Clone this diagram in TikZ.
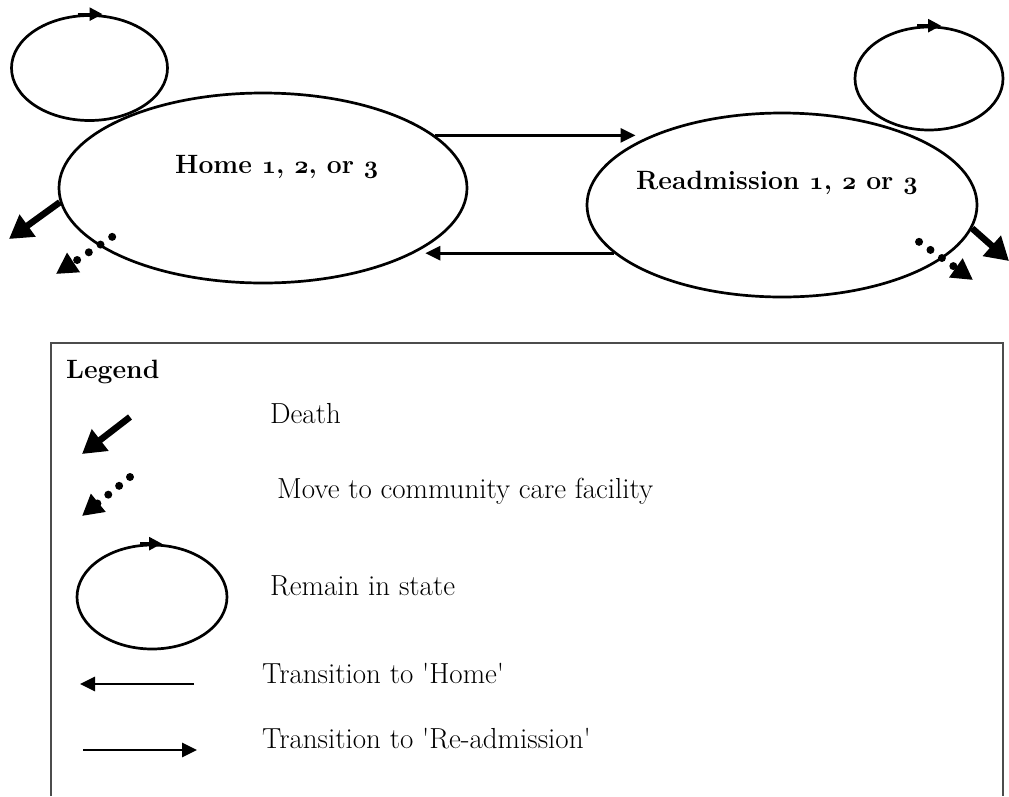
\documentclass[tikz,border=0pt]{standalone}
\usetikzlibrary{arrows.meta,shapes.geometric,calc}
\newcommand{\osb}[1]{{\usefont{OML}{cmm}{b}{it}#1}}
\begin{document}
\begin{tikzpicture}[x=1pt,y=-1pt,
  st/.style={draw, ellipse, line width=2.7pt, inner sep=0pt},
  trans/.style={line width=2.8pt, -{Triangle[length=15pt,width=14pt]}},
  death/.style={line width=6.5pt, -{Triangle[length=23pt,width=26pt]}},
  dotarr/.style={line width=8pt, line cap=round, dash pattern=on 0pt off 14pt, -{Triangle[length=21pt,width=22pt]}},
  looparr/.style={line width=2.7pt, -{Triangle[length=13pt,width=13pt]}},
  lbl/.style={anchor=base west, inner sep=0pt, font=\fontsize{29}{34}\selectfont},
  hb/.style={anchor=base west, inner sep=0pt, font=\fontsize{26.5}{31}\selectfont\bfseries},
  boxline/.style={draw=black!70, line width=2.5pt}]
\useasboundingbox (0,0) rectangle (1009,796);

% states
\node[st, minimum width=408pt, minimum height=190pt] (home) at (263,188) {};
\node[st, minimum width=390pt, minimum height=184pt] (readm) at (782,205) {};
\node[st, minimum width=156pt, minimum height=105pt] (homeloop) at (89.5,68) {};
\node[st, minimum width=148pt, minimum height=103pt] (readmloop) at (929,78.5) {};
\node[hb] (homet) at (175,173) {Home \osb{1}, \osb{2}, or \osb{3}};
\node[hb] (readmt) at (636,189) {Readmission \osb{1}, \osb{2} or \osb{3}};

% loop arrows
\draw[looparr] ([xshift=-12pt]homeloop.north) -- ([xshift=13pt]homeloop.north);
\draw[looparr] ([xshift=-12pt]readmloop.north) -- ([xshift=12pt]readmloop.north);

% transitions
\draw[trans] (home.17) -- (home.17 -| readm.157);
\draw[trans] (readm.196) -- (readm.196 -| home.340);

% death and community care
\coordinate (hdeath) at (9,239);
\draw[death] (home.184) -- (hdeath);
\coordinate (hcare) at (56,274);
\draw[dotarr] ([shift={(18,-6)}]home.198) -- (hcare);
\coordinate (rdeath) at (1009,261);
\draw[death] (readm.-7) -- (rdeath);
\coordinate (rcare) at (973,280);
\draw[dotarr] ([shift={(-34,-9)}]readm.-15) -- (rcare);

% legend box
\draw[boxline] (51,796) -- (51,343) -- (1003,343) -- (1003,796);
\node[hb] (legt) at (66,378) {Legend};

\coordinate (ld1) at (130,417); \coordinate (ld2) at (82,454);
\draw[death] (ld1) -- (ld2);
\node[lbl] (deatht) at (270,423) {Death};

\coordinate (lc1) at (130,477); \coordinate (lc2) at (82,516);
\draw[dotarr] (lc1) -- (lc2);
\node[lbl] (caret) at (277,498) {Move to community care facility};

\node[st, minimum width=150pt, minimum height=104pt] (legloop) at (152,597) {};
\draw[looparr] ([xshift=-12pt]legloop.north) -- ([xshift=10pt]legloop.north);
\node[lbl] (remaint) at (270,595) {Remain in state};

\coordinate (lh1) at (194,684); \coordinate (lh2) at (80,684);
\draw[trans] (lh1) -- (lh2);
\node[lbl] (homelt) at (262,683) {Transition to \textquotesingle Home\textquotesingle};

\coordinate (lr1) at (83,750); \coordinate (lr2) at (197,750);
\draw[trans] (lr1) -- (lr2);
\node[lbl] (readlt) at (262,748) {Transition to \textquotesingle Re-admission\textquotesingle};
\end{tikzpicture}
\end{document}
